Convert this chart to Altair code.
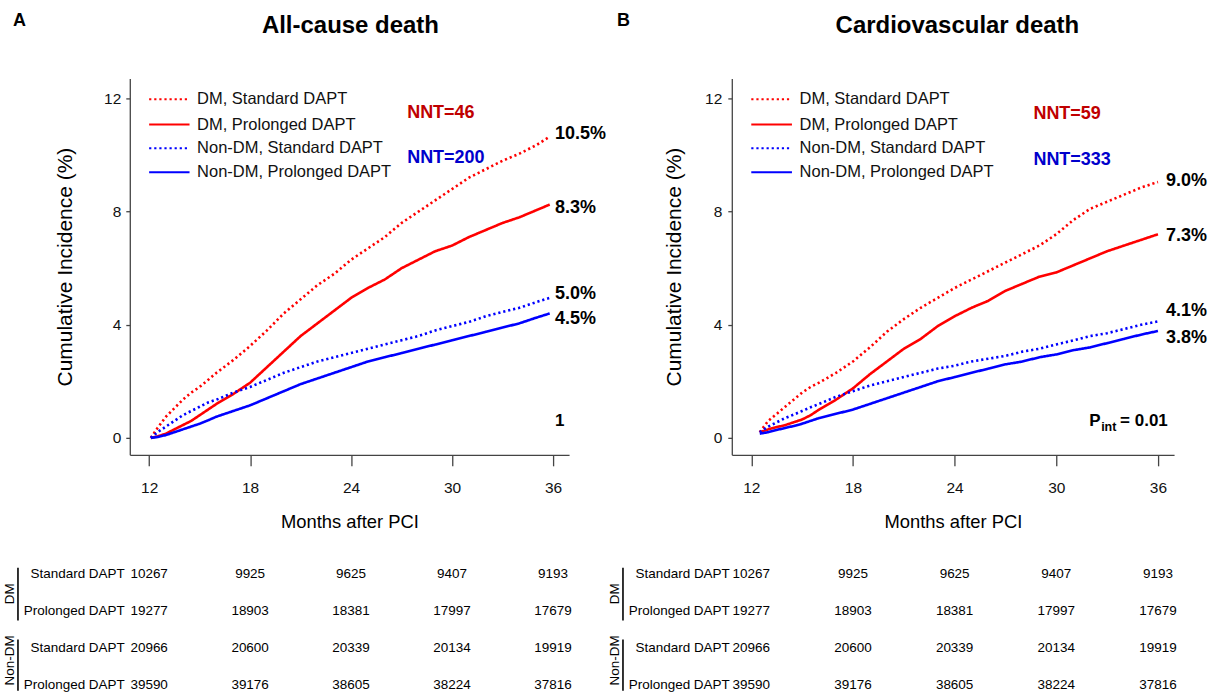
import altair as alt
import pandas as pd

FONT = "Liberation Sans"
RED = "#FF0000"
BLUE = "#0000FF"
NNT_RED = "#C00000"
NNT_BLUE = "#0000CC"

series_names = ["DM, Standard DAPT", "DM, Prolonged DAPT",
                "Non-DM, Standard DAPT", "Non-DM, Prolonged DAPT"]

# ---------------- Panel A : All-cause death ----------------
a_months = [12.1, 12.5, 13, 13.5, 14, 14.5, 15, 15.5, 16, 17, 18, 19, 20, 21, 22,
            23, 24, 25, 26, 27, 28, 29, 30, 31, 32, 33, 34, 35, 35.8]
a_dm_std = [0, 0.35, 0.75, 1.05, 1.35, 1.6, 1.8, 2.05, 2.3, 2.75, 3.25, 3.8, 4.4, 4.9, 5.4,
            5.8, 6.3, 6.7, 7.1, 7.6, 8.0, 8.4, 8.8, 9.2, 9.5, 9.8, 10.05, 10.35, 10.65]
a_dm_pro = [0, 0.05, 0.15, 0.3, 0.45, 0.6, 0.8, 1.0, 1.2, 1.55, 1.95, 2.5, 3.05, 3.6, 4.05,
            4.5, 4.95, 5.3, 5.6, 6.0, 6.3, 6.6, 6.8, 7.1, 7.35, 7.6, 7.8, 8.05, 8.25]
a_nd_std = [0, 0.2, 0.4, 0.6, 0.8, 0.95, 1.1, 1.25, 1.35, 1.6, 1.8, 2.05, 2.3, 2.5, 2.7,
            2.85, 3.0, 3.15, 3.3, 3.45, 3.6, 3.8, 3.95, 4.1, 4.3, 4.45, 4.6, 4.8, 4.95]
a_nd_pro = [0, 0.03, 0.1, 0.2, 0.3, 0.4, 0.5, 0.62, 0.75, 0.95, 1.15, 1.4, 1.65, 1.9, 2.1,
            2.3, 2.5, 2.7, 2.85, 3.0, 3.15, 3.3, 3.45, 3.6, 3.75, 3.9, 4.05, 4.25, 4.4]
a_end_labels = ["10.5%", "8.3%", "5.0%", "4.5%"]
a_end_y = [10.73, 8.12, 5.08, 4.2]
a_nnt = ["NNT=46", "NNT=200"]

# ---------------- Panel B : Cardiovascular death ----------------
b_months = [12.5, 13, 13.5, 14, 14.5, 15, 15.5, 16, 17, 18, 19, 20, 21, 22, 23, 24,
            25, 26, 27, 28, 29, 30, 31, 32, 33, 34, 35, 36]
b_dm_std = [0.2, 0.6, 0.85, 1.1, 1.35, 1.6, 1.8, 1.95, 2.3, 2.7, 3.2, 3.75, 4.2, 4.6,
            4.95, 5.3, 5.6, 5.9, 6.2, 6.5, 6.8, 7.2, 7.7, 8.1, 8.35, 8.6, 8.85, 9.05]
b_dm_pro = [0.2, 0.3, 0.38, 0.45, 0.55, 0.65, 0.8, 1.0, 1.35, 1.75, 2.25, 2.7, 3.15, 3.5,
            3.95, 4.3, 4.6, 4.85, 5.2, 5.45, 5.7, 5.85, 6.1, 6.35, 6.6, 6.8, 7.0, 7.2]
b_nd_std = [0.2, 0.4, 0.55, 0.7, 0.82, 0.95, 1.08, 1.2, 1.45, 1.65, 1.85, 2.0, 2.15, 2.3,
            2.45, 2.55, 2.7, 2.8, 2.9, 3.05, 3.15, 3.3, 3.45, 3.6, 3.7, 3.85, 4.0, 4.12]
b_nd_pro = [0.15, 0.2, 0.28, 0.35, 0.42, 0.5, 0.6, 0.7, 0.85, 1.0, 1.2, 1.4, 1.6, 1.8,
            2.0, 2.15, 2.3, 2.45, 2.6, 2.7, 2.85, 2.95, 3.1, 3.2, 3.35, 3.5, 3.65, 3.78]
b_end_labels = ["9.0%", "7.3%", "4.1%", "3.8%"]
b_end_y = [9.07, 7.13, 4.48, 3.53]
b_nnt = ["NNT=59", "NNT=333"]

# ---------------- Numbers at risk (same in both panels) ----------------
risk_months = [12, 18, 24, 30, 36]
row_labels = ["Standard DAPT", "Prolonged DAPT", "Standard DAPT", "Prolonged DAPT"]
risk_dm_std = [10267, 9925, 9625, 9407, 9193]
risk_dm_pro = [19277, 18903, 18381, 17997, 17679]
risk_nd_std = [20966, 20600, 20339, 20134, 19919]
risk_nd_pro = [39590, 39176, 38605, 38224, 37816]
group_labels = ["DM", "Non-DM"]

x_ticks = [12, 18, 24, 30, 36]
y_ticks = [0, 4, 8, 12]


def make_panel(months, curves, end_labels, end_y, nnt, title, letter, lay):
    W, H = lay["W"], 377
    xs = alt.Scale(domain=[10.85, 36.95], nice=False, zero=False)
    ys = alt.Scale(domain=[-0.6, 12.71], nice=False, zero=False)
    xaxis = alt.Axis(values=x_ticks, title="Months after PCI", grid=False,
                     tickSize=11, labelPadding=15, titlePadding=16,
                     labelFontSize=15.5, titleFontSize=18.4, labelAngle=0)
    yaxis = alt.Axis(values=y_ticks, title="Cumulative Incidence (%)", grid=False,
                     tickSize=4, labelPadding=lay["ylp"], titlePadding=lay["ytp"],
                     labelFontSize=15.5, titleFontSize=21)

    def X(f):
        return alt.X(f, type="quantitative", scale=xs, axis=xaxis)

    def Y(f):
        return alt.Y(f, type="quantitative", scale=ys, axis=yaxis)

    cs = alt.Scale(domain=series_names, range=[RED, RED, BLUE, BLUE])
    ds = alt.Scale(domain=series_names, range=[[2.2, 2.9], [1, 0], [2.2, 2.9], [1, 0]])
    ds_leg = alt.Scale(domain=series_names, range=[[1.8, 1.7], [1, 0], [1.8, 1.7], [1, 0]])

    rows = []
    for name, vals in zip(series_names, curves):
        for m, v in zip(months, vals):
            rows.append({"month": m, "pct": v, "series": name})
    df = pd.DataFrame(rows)

    lines = alt.Chart(df).mark_line(strokeWidth=2.6, strokeCap="butt").encode(
        x=X("month"), y=Y("pct"),
        color=alt.Color("series:N", scale=cs, legend=None),
        strokeDash=alt.StrokeDash("series:N", scale=ds, legend=None),
        order=alt.Order("month:Q"),
    )

    # custom in-plot legend
    leg = pd.DataFrame({"series": series_names,
                        "ly": [11.97, 11.08, 10.24, 9.39]})
    leg["lx0"] = 12.0
    leg["lx1"] = 14.4
    leg["tx"] = 14.85
    leg_lines = alt.Chart(leg).mark_rule(strokeWidth=2).encode(
        x=X("lx0"), x2="lx1", y=Y("ly"),
        color=alt.Color("series:N", scale=cs, legend=None),
        strokeDash=alt.StrokeDash("series:N", scale=ds_leg, legend=None),
    )
    leg_text = alt.Chart(leg).mark_text(align="left", baseline="middle",
                                        fontSize=16.5, color="#111").encode(
        x=X("tx"), y=Y("ly"), text="series:N")

    # NNT
    nnt_df = pd.DataFrame({"t": nnt, "x": [lay["nnt_x"]] * 2,
                           "y": lay["nnt_y"], "c": [NNT_RED, NNT_BLUE]})
    nnt_text = alt.Chart(nnt_df).mark_text(align="left", baseline="middle",
                                           fontSize=18, fontWeight="bold").encode(
        x=X("x"), y=Y("y"), text="t:N", color=alt.Color("c:N", scale=None))

    # end labels
    end_df = pd.DataFrame({"t": end_labels, "y": end_y})
    end_df["x"] = lay["end_x"]
    end_text = alt.Chart(end_df).mark_text(align="left", baseline="middle",
                                           fontSize=18, fontWeight="bold",
                                           color="#000").encode(
        x=X("x"), y=Y("y"), text="t:N")

    layers = [lines, leg_lines, leg_text, nnt_text, end_text]

    # p-interaction / stray label
    p_df = pd.DataFrame({"x": [lay["p_x"]], "y": [0.6]})
    if lay["p_full"]:
        layers.append(alt.Chart(p_df).mark_text(align="left", baseline="middle",
                                                fontSize=17, fontWeight="bold",
                                                text="P", color="#000").encode(
            x=X("x"), y=Y("y")))
        layers.append(alt.Chart(p_df).mark_text(align="left", baseline="middle",
                                                fontSize=12.5, fontWeight="bold",
                                                text="int", dx=12, dy=6,
                                                color="#000").encode(
            x=X("x"), y=Y("y")))
        layers.append(alt.Chart(p_df).mark_text(align="left", baseline="middle",
                                                fontSize=17, fontWeight="bold",
                                                text="= 0.01", dx=31,
                                                color="#000").encode(
            x=X("x"), y=Y("y")))
    else:
        layers.append(alt.Chart(p_df).mark_text(align="left", baseline="middle",
                                                fontSize=17, fontWeight="bold",
                                                text="1", color="#000").encode(
            x=X("x"), y=Y("y")))

    # title and panel letter
    t_df = pd.DataFrame({"t": [title]})
    layers.append(alt.Chart(t_df).mark_text(align="center", baseline="middle",
                                            fontSize=24, fontWeight="bold",
                                            color="#000").encode(
        x=alt.value(lay["title_x"]), y=alt.value(-53), text="t:N"))
    l_df = pd.DataFrame({"t": [letter]})
    layers.append(alt.Chart(l_df).mark_text(align="left", baseline="middle",
                                            fontSize=18, fontWeight="bold",
                                            color="#000").encode(
        x=alt.value(lay["letter_x"]), y=alt.value(-58), text="t:N"))

    # bounds helper (white, invisible on white page)
    layers.append(alt.Chart(pd.DataFrame({"a": [0]})).mark_rule(
        color="white", strokeWidth=0.5).encode(
        x=alt.value(lay["edge_x"]), y=alt.value(-77), y2=alt.value(619)))

    main = alt.layer(*layers)

    # ---- numbers-at-risk table ----
    ts = alt.Scale(domain=[0, 3], range=[496, 608], nice=False, zero=False)

    def TY(f):
        return alt.Y(f, type="quantitative", scale=ts, axis=None)

    trows = []
    for r, vals in enumerate([risk_dm_std, risk_dm_pro, risk_nd_std, risk_nd_pro]):
        for m, v in zip(risk_months, vals):
            trows.append({"month": m, "row": r, "n": str(v)})
    tdf = pd.DataFrame(trows)
    tnum = alt.Chart(tdf).mark_text(align="center", baseline="middle",
                                    fontSize=13.5, color="#000").encode(
        x=X("month"), y=TY("row"), text="n:N")
    ldf = pd.DataFrame({"t": row_labels, "row": [0, 1, 2, 3]})
    tlab = alt.Chart(ldf).mark_text(align="right", baseline="middle",
                                    fontSize=13.5, color="#000").encode(
        x=alt.value(lay["rowlab_x"]), y=TY("row"), text="t:N")
    gdf = pd.DataFrame({"g": group_labels, "y0": [-0.16, 1.77],
                        "y1": [1.26, 3.14], "yc": [0.54, 2.33]})
    gbar = alt.Chart(gdf).mark_rule(strokeWidth=1.6, color="#000").encode(
        x=alt.value(lay["bar_x"]), y=TY("y0"), y2="y1")
    glab = alt.Chart(gdf).mark_text(angle=270, align="center", baseline="middle",
                                    fontSize=13.5, color="#000").encode(
        x=alt.value(lay["glab_x"]), y=TY("yc"), text="g:N")
    table = alt.layer(tnum, tlab, gbar, glab)

    return alt.layer(main, table).resolve_scale(y="independent").properties(
        width=W, height=H)


lay_a = dict(W=440, ylp=5, ytp=28, nnt_x=27.33, nnt_y=[11.5, 9.88], end_x=36.12,
             p_x=36.12, p_full=False, title_x=221, letter_x=-117, edge_x=-129,
             rowlab_x=-5, bar_x=-112, glab_x=-120)
lay_b = dict(W=443, ylp=6, ytp=20, nnt_x=28.65, nnt_y=[11.47, 9.81], end_x=36.47,
             p_x=31.94, p_full=True, title_x=226, letter_x=-115, edge_x=483,
             rowlab_x=-2, bar_x=-109, glab_x=-117)

pa = make_panel(a_months, [a_dm_std, a_dm_pro, a_nd_std, a_nd_pro],
                a_end_labels, a_end_y, a_nnt, "All-cause death", "A", lay_a)
pb = make_panel(b_months, [b_dm_std, b_dm_pro, b_nd_std, b_nd_pro],
                b_end_labels, b_end_y, b_nnt, "Cardiovascular death", "B", lay_b)

chart = alt.hconcat(pa, pb, spacing=163, bounds="flush").properties(
    padding=0
).configure(font=FONT).configure_view(stroke=None).configure_axis(
    domainColor="#444", tickColor="#444", domainWidth=1.3, tickWidth=1.3,
    labelColor="#111", titleColor="#000", titleFontWeight="normal",
    labelFont=FONT, titleFont=FONT
)

chart.save("out.html", embed_options={"renderer": "svg", "actions": False})
